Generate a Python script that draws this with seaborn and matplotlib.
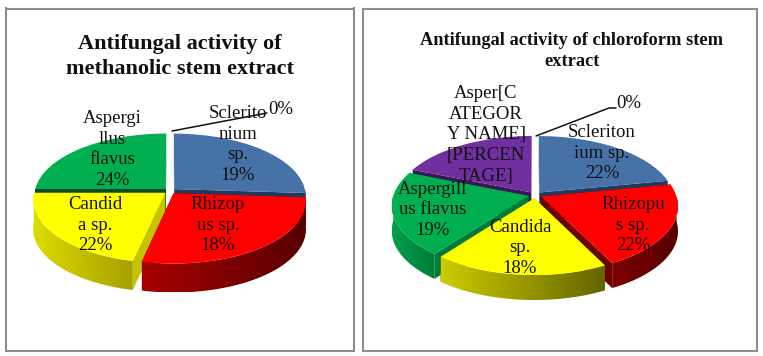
import numpy as np
import seaborn as sns
import matplotlib.pyplot as plt
from matplotlib.lines import Line2D
from matplotlib.patches import Polygon
from matplotlib.transforms import Transform

sns.set_theme(style="white")
plt.rcParams['font.family'] = ['Liberation Serif', 'DejaVu Serif']

# --- data ---
meth_title = "Antifungal activity of\nmethanolic stem extract"
meth_labels = ["Sclerito\nnium\nsp.\n19%", "Rhizop\nus sp.\n18%", "Candid\na sp.\n22%",
               "Aspergi\nllus\nflavus\n24%", "0%"]
# the slices as drawn do not follow the printed percentages, so they are kept apart
meth_slices = [26, 27.5, 21.5, 25, 0]
meth_colors = ["#4672A8", "#FF0000", "#FFFF00", "#00B050", "#7030A0"]

chlo_title = "Antifungal activity of chloroform stem\nextract"
chlo_labels = ["Scleriton\nium sp.\n22%", "Rhizopu\ns sp.\n22%", "Candida\nsp.\n18%",
               "Aspergill\nus flavus\n19%", "Asper[C\nATEGOR\nY NAME]\n[PERCEN\nTAGE]", "0%"]
chlo_slices = [22, 20.5, 18, 20.5, 19, 0]
chlo_colors = ["#4672A8", "#FF0000", "#FFFF00", "#00B050", "#7030A0", "#7030A0"]

# side shading for each top colour: left end, right end, cut face
meth_shades = {
    "#4672A8": ("#2F4F78", "#1E3A5C", "#1E3A5C"),
    "#FF0000": ("#A80000", "#560000", "#6A0000"),
    "#FFFF00": ("#DCDC00", "#A8A000", "#C4C400"),
    "#00B050": ("#009A46", "#006A32", "#0A4A2C"),
    "#7030A0": ("#4A2070", "#3A1858", "#3A1858"),
}
chlo_shades = {
    "#4672A8": ("#2F4F78", "#1E3A5C", "#1E3A5C"),
    "#FF0000": ("#7C0000", "#560000", "#6A0000"),
    "#FFFF00": ("#CCCC00", "#646400", "#8A8A00"),
    "#00B050": ("#00A04A", "#007C3A", "#007C3A"),
    "#7030A0": ("#4A2070", "#3A1858", "#3A1858"),
}


class Persp(Transform):
    input_dims = output_dims = 2

    def __init__(self, k):
        super().__init__()
        self.k = k

    def transform_non_affine(self, values):
        values = np.asarray(values, dtype=float)
        return values / (1 + self.k * values[:, 1:2])


def draw_pie(box, centre, rx, ry, k, depth, blow, slices, colors, shades):
    left, top, w, h = box
    ax = fig.add_axes([left / 763, 1 - (top + h) / 356, w / 763, h / 356])
    wedges, _ = ax.pie(slices, colors=colors, startangle=90, counterclock=False,
                       explode=[blow] * len(slices), wedgeprops={"linewidth": 0})
    ax.set_aspect("auto")
    persp = Persp(k)
    dz = depth / ry

    mids = [np.sin(np.radians((p.theta1 + p.theta2) / 2)) for p in wedges]
    for rank, i in enumerate(np.argsort(mids)[::-1]):
        p = wedges[i]
        if p.theta2 - p.theta1 < 0.01:
            p.set_visible(False)
            continue
        z = 3 + rank * 4
        c0 = np.array(p.center, dtype=float)
        low, high, face = shades[colors[i]]

        # cut faces
        for th in (p.theta1, p.theta2):
            rim = c0 + p.r * np.array([np.cos(np.radians(th)), np.sin(np.radians(th))])
            edge = persp.transform_non_affine(np.array([c0, rim]))
            quad = np.vstack([edge, edge[::-1] - [0, dz]])
            ax.fill(quad[:, 0], quad[:, 1], color=face, lw=0, zorder=z)

        # outer wall, front half only
        th = np.linspace(p.theta1, p.theta2, 120)
        th = th[np.sin(np.radians(th)) <= 0]
        if len(th) > 1:
            arc = c0 + p.r * np.column_stack([np.cos(np.radians(th)), np.sin(np.radians(th))])
            arc = persp.transform_non_affine(arc)
            wall = np.vstack([arc, arc[::-1] - [0, dz]])
            im = ax.imshow(np.linspace(0, 1, 256)[None, :], aspect="auto", zorder=z + 1,
                           cmap=sns.blend_palette([low, high], as_cmap=True),
                           extent=(wall[:, 0].min(), wall[:, 0].max(), wall[:, 1].min(), wall[:, 1].max()))
            im.set_clip_path(Polygon(wall, closed=True, transform=ax.transData))

        p.set_transform(persp + ax.transData)
        p.set_zorder(z + 2)

    ax.set_xlim((left - centre[0]) / rx, (left + w - centre[0]) / rx)
    ax.set_ylim(-(top + h - centre[1]) / ry, (centre[1] - top) / ry)
    ax.set_xticks([])
    ax.set_yticks([])
    ax.set_frame_on(True)
    for s in ax.spines.values():
        s.set_visible(True)
        s.set_color("#8C8C8C")
        s.set_linewidth(1.5)
    return ax


def put_text(x, y, s, **kw):
    fig.text(x / 763, 1 - y / 356, s, ha="center", va="center", color="#111111", zorder=10, **kw)


def leader(xs, ys):
    fig.add_artist(Line2D(np.array(xs) / 763, 1 - np.array(ys) / 356, color="#111111", lw=1.1, zorder=9))


fig = plt.figure(figsize=(7.63, 3.56), dpi=100, facecolor="white")

draw_pie((5.5, 8.5, 348, 342), (170, 191), 131, 62, 0.11, 29, 0.045, meth_slices, meth_colors, meth_shades)
draw_pie((362.5, 8.5, 394, 342), (535, 195), 135, 65, 0.14, 25, 0.05, chlo_slices, chlo_colors, chlo_shades)

put_text(180, 56.5, meth_title, fontsize=16, fontweight="bold", linespacing=1.27)
put_text(572, 51, chlo_title, fontsize=13.2, fontweight="bold", linespacing=1.25)

meth_pos = [(238, 144.5), (218, 225), (95, 225), (112, 149.5), (281, 109)]
chlo_pos = [(602, 153), (633, 225), (520, 248), (433, 210), (486, 135), (629, 103)]
for (x, y), s in zip(meth_pos, meth_labels):
    put_text(x, y, s, fontsize=13.5, linespacing=1.3)
for (x, y), s in zip(chlo_pos, chlo_labels):
    put_text(x, y, s, fontsize=13.5, linespacing=1.3)

leader([172, 267], [131, 113])
leader([536, 609, 616], [136, 108, 108])

fig.savefig("out.png", dpi=100)
